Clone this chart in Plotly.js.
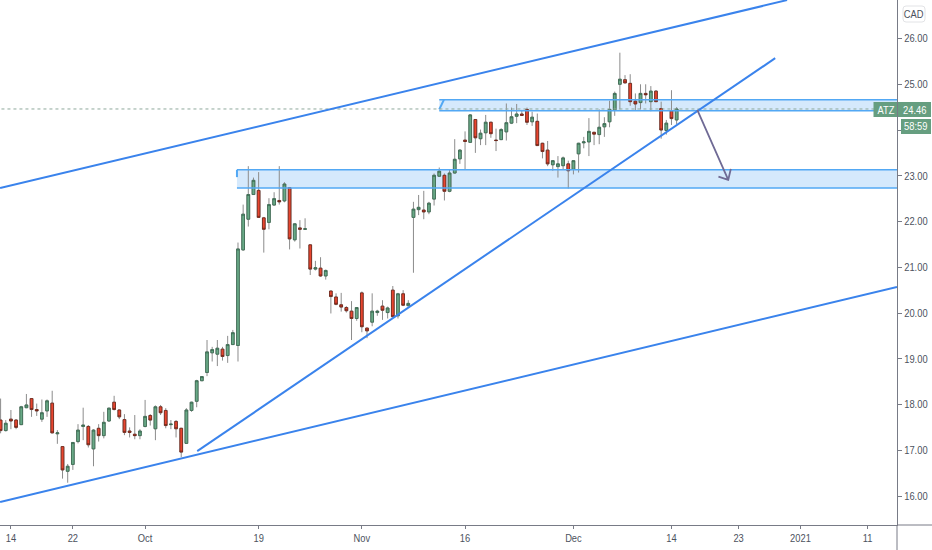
<!DOCTYPE html>
<html>
<head>
<meta charset="utf-8">
<script src="https://cdn.plot.ly/plotly-3.0.1.min.js"></script>
<style>html,body{margin:0;padding:0;background:#fff}#c{width:932px;height:550px}</style>
</head>
<body>
<div id="c"></div>
<script>
const opens = [17.66,17.43,17.68,17.66,17.56,17.93,18.13,17.89,17.68,17.86,
18.03,17.36,17.08,16.54,16.69,17.19,17.52,17.52,17.03,17.48,
17.32,17.64,18.05,17.88,17.67,17.42,17.35,17.32,17.52,17.76,
17.47,17.95,17.87,17.56,17.63,17.48,17.15,17.87,18.07,18.52,
18.70,19.13,19.10,19.21,19.07,19.31,19.29,21.38,22.05,22.59,
22.68,22.08,21.98,22.36,22.46,22.45,22.74,21.60,21.86,21.83,
21.49,20.96,20.98,20.81,20.48,20.35,20.18,20.12,20.04,19.88,
20.44,19.67,19.80,20.01,20.15,20.01,20.50,19.94,20.42,20.16,
22.09,22.26,22.25,22.21,22.49,22.99,23.01,22.66,23.06,23.37,
23.78,23.73,24.23,23.81,23.94,24.17,23.78,23.79,23.96,24.15,
24.30,24.35,24.45,24.18,24.19,23.71,23.56,23.24,23.20,23.22,
23.26,23.14,23.48,23.72,23.74,23.95,23.90,24.07,24.18,24.44,
25.00,25.10,25.02,24.63,24.60,24.80,24.62,24.85,24.47,23.99,
24.42,24.22];
const highs = [18.13,17.66,17.88,17.68,17.97,18.23,18.14,18.02,18.11,18.11,
18.30,17.44,17.09,16.70,17.18,17.57,17.93,17.55,17.46,17.57,
17.84,17.93,18.19,17.89,17.79,17.50,17.77,17.46,18.10,17.79,
17.98,17.99,17.92,17.66,17.66,17.49,17.92,18.06,18.54,18.62,
19.41,19.26,19.41,19.26,19.50,19.63,21.54,22.37,23.21,22.96,
23.08,22.10,22.51,22.64,23.21,22.86,22.75,21.96,22.03,22.07,
21.50,21.14,21.22,20.95,20.49,20.43,20.44,20.15,20.26,20.12,
20.47,19.68,20.43,20.07,20.28,20.14,20.59,20.44,20.50,20.28,
22.43,22.58,22.67,22.43,23.05,23.18,23.05,23.13,23.80,23.58,
23.97,24.35,24.24,24.01,24.33,24.18,24.03,24.04,24.58,24.49,
24.57,24.44,24.49,24.40,24.36,23.72,23.76,23.34,23.43,23.42,
23.33,23.34,23.72,23.85,24.26,23.96,24.45,24.28,24.64,24.84,
25.69,25.20,25.22,24.80,25.00,25.00,24.96,24.87,24.62,24.22,
24.87,24.50];
const lows = [17.37,17.41,17.46,17.46,17.55,17.92,17.73,17.75,17.62,17.73,
17.37,17.14,16.38,16.29,16.57,17.15,17.22,17.06,16.65,17.19,
17.26,17.62,17.87,17.68,17.33,17.28,17.24,17.24,17.50,17.54,
17.22,17.77,17.48,17.46,17.28,16.85,17.14,17.84,17.94,18.51,
18.62,18.94,18.84,18.96,18.91,19.30,18.94,21.36,21.89,22.58,
22.08,21.32,21.83,22.35,22.37,22.42,21.39,21.56,21.41,21.83,
20.83,20.93,20.79,20.73,19.99,20.17,20.03,20.01,19.41,19.83,
19.58,19.45,19.71,19.94,19.85,19.88,19.91,19.88,20.15,20.15,
20.88,22.14,22.05,22.16,22.35,22.98,22.46,22.64,23.05,23.26,
23.14,23.72,23.50,23.67,23.67,23.83,23.54,23.78,23.77,24.13,
24.15,24.31,24.11,24.09,23.65,23.38,23.21,23.11,22.96,23.14,
22.72,23.03,23.07,23.60,23.43,23.67,23.69,23.85,24.06,24.31,
24.45,25.02,24.53,24.42,24.45,24.58,24.41,24.61,23.81,23.90,
24.11,24.13];
const closes = [17.43,17.59,17.64,17.50,17.95,17.99,17.89,17.86,17.82,18.08,
17.38,17.38,16.57,16.65,17.17,17.44,17.55,17.12,17.44,17.32,
17.61,17.92,17.89,17.73,17.39,17.39,17.32,17.42,17.74,17.66,
17.95,17.82,17.54,17.57,17.47,16.96,17.88,18.05,18.52,18.61,
19.15,19.20,19.23,19.05,19.31,19.57,21.40,22.16,22.59,22.90,
22.09,21.83,22.37,22.50,22.43,22.82,21.62,21.95,21.83,21.84,
20.96,20.99,20.81,20.93,20.36,20.19,20.13,20.05,19.88,20.12,
19.70,19.61,20.04,20.04,20.06,20.11,19.92,20.42,20.17,20.21,
22.27,22.31,22.21,22.40,23.01,23.10,22.66,23.06,23.36,23.56,
23.75,24.33,23.83,23.93,24.17,23.92,23.77,24.01,24.16,24.29,
24.35,24.32,24.17,24.28,23.66,23.53,23.26,23.33,23.26,23.39,
23.11,23.33,23.71,23.74,23.97,23.91,24.06,24.14,24.45,24.80,
25.11,25.03,24.62,24.57,24.80,24.77,24.85,24.62,24.00,24.15,
24.25,24.46];

const xTickBars = [2,14,28,50,70,90,111,130,143,155,168];
const xTickLabels = ['14','22','Oct','19','Nov','16','Dec','14','23','2021','11'];
const yTickValues = [16,17,18,19,20,21,22,23,24,25,26];
const yTickLabels = ['16.00','17.00','18.00','19.00','20.00','21.00','22.00','23.00','','25.00','26.00'];

const upperChannelX = [-0.1,152.4], upperChannelY = [22.73,26.84];
const lowerChannelX = [-0.1,173.7], lowerChannelY = [15.87,20.57];
const riseLineX = [38.1,150.1], riseLineY = [16.98,25.57];
const arrowX = [135,141,139.1,141,141.5], arrowY = [24.44,22.91,22.98,22.91,23.15];
const upperZone = {x0:85,x1:173.7,y0:24.42,y1:24.66};
const lowerZone = {x0:45.8,x1:173.7,y0:22.73,y1:23.13};
const lastPrice = 24.46;

const bars = opens.map((_,i)=>i);
const BLUE = '#3a83ec', ZONE_EDGE = '#52a8f4', ZONE_FILL = '#d5e9fc';
const FONT = '"Liberation Sans",sans-serif';
const W = 932, H = 550, L = 0, R = 35, T = 0, B = 25;
const px = v => (v - L) / (W - L - R);
const py = v => 1 - (v - T) / (H - T - B);

function line(x, y, color, width, dash){
  return {type:'scatter', mode:'lines', x, y, line:{color, width, dash: dash||'solid'},
          hoverinfo:'skip', showlegend:false};
}

const traces = [
  {type:'candlestick', x:bars, open:opens, high:highs, low:lows, close:closes,
   increasing:{line:{color:'#8c8c8c',width:1},fillcolor:'rgba(0,0,0,0)'},
   decreasing:{line:{color:'#8c8c8c',width:1},fillcolor:'rgba(0,0,0,0)'},
   whiskerwidth:0, hoverinfo:'skip', showlegend:false},
  {type:'candlestick', x:bars, open:opens, close:closes,
   high:opens.map((o,i)=>Math.max(o,closes[i])),
   low:opens.map((o,i)=>Math.min(o,closes[i])),
   increasing:{line:{color:'#38684f',width:0.8},fillcolor:'#69a987'},
   decreasing:{line:{color:'#6b2418',width:0.8},fillcolor:'#e8452f'},
   whiskerwidth:0, hoverinfo:'skip', showlegend:false},
  line([lowerZone.x0,lowerZone.x1],[lowerZone.y1,lowerZone.y1],ZONE_EDGE,1.5),
  line([lowerZone.x0,lowerZone.x1],[lowerZone.y0,lowerZone.y0],ZONE_EDGE,1.5),
  line([upperZone.x0,upperZone.x1],[upperZone.y1,upperZone.y1],ZONE_EDGE,1.5),
  line([upperZone.x0,upperZone.x1],[upperZone.y0,upperZone.y0],ZONE_EDGE,1.5),
  line([lowerZone.x0,lowerZone.x0],[lowerZone.y1,22.97],ZONE_EDGE,2),
  line([upperZone.x0,upperZone.x0+0.9],[upperZone.y0+0.03,upperZone.y1],ZONE_EDGE,2),
  line([bars[0]-1,173.7],[lastPrice,lastPrice],'#8fa99b',1,'dot'),
  line(upperChannelX,upperChannelY,BLUE,2),
  line(lowerChannelX,lowerChannelY,BLUE,2),
  line(riseLineX,riseLineY,BLUE,2),
  line(arrowX,arrowY,'#6f6a95',1.8)
];

const shapes = [
  {type:'rect',layer:'below',xref:'x',yref:'y',x0:lowerZone.x0,x1:lowerZone.x1,y0:lowerZone.y0,y1:lowerZone.y1,fillcolor:ZONE_FILL,line:{width:0}},
  {type:'rect',layer:'below',xref:'x',yref:'y',x0:upperZone.x0,x1:upperZone.x1,y0:upperZone.y0,y1:upperZone.y1,fillcolor:ZONE_FILL,line:{width:0}},
  {type:'line',xref:'paper',yref:'paper',x0:px(897),x1:px(932),y0:py(525),y1:py(525),line:{color:'#787b86',width:1}},
  {type:'line',xref:'paper',yref:'paper',x0:px(897),x1:px(897),y0:py(525),y1:py(550),line:{color:'#787b86',width:1}},
  {type:'rect',xref:'paper',yref:'paper',x0:px(873.5),x1:px(897),y0:py(117),y1:py(102),fillcolor:'#669e80',line:{width:0}},
  {type:'rect',xref:'paper',yref:'paper',x0:px(898),x1:px(931),y0:py(117),y1:py(102),fillcolor:'#669e80',line:{width:0}},
  {type:'rect',xref:'paper',yref:'paper',x0:px(901),x1:px(931),y0:py(134),y1:py(119),fillcolor:'#669e80',line:{width:0}},
  {type:'path',xref:'paper',yref:'paper',
   path:`M${px(906)},${py(6)} L${px(922)},${py(6)} Q${px(925)},${py(6)} ${px(925)},${py(9)} L${px(925)},${py(19)} Q${px(925)},${py(22)} ${px(922)},${py(22)} L${px(906)},${py(22)} Q${px(903)},${py(22)} ${px(903)},${py(19)} L${px(903)},${py(9)} Q${px(903)},${py(6)} ${px(906)},${py(6)} Z`,
   fillcolor:'#ffffff',line:{color:'#e2e3e6',width:1}}
];

function label(text, cx, cy, color){
  return {text, xref:'paper', yref:'paper', x:px(cx), y:py(cy), xanchor:'center', yanchor:'middle',
          showarrow:false, font:{family:FONT,size:11,color}};
}

const layout = {
  width:W, height:H, margin:{l:L,r:R,t:T,b:B,pad:0},
  paper_bgcolor:'#ffffff', plot_bgcolor:'#ffffff', showlegend:false, boxgap:0.25, boxmode:'overlay',
  xaxis:{type:'linear', range:[-0.116,173.7], rangeslider:{visible:false}, showgrid:false, zeroline:false,
    tickmode:'array', tickvals:xTickBars, ticktext:xTickLabels, ticks:'outside', ticklen:3, tickcolor:'#787b86',
    showline:true, linecolor:'#787b86', linewidth:1, tickfont:{family:FONT,size:11,color:'#4c525e'}},
  yaxis:{side:'right', range:[15.366,26.842], showgrid:false, zeroline:false,
    tickmode:'array', tickvals:yTickValues, ticktext:yTickLabels, ticks:'outside', ticklen:4, tickcolor:'#787b86',
    showline:true, linecolor:'#787b86', linewidth:1, tickfont:{family:FONT,size:11,color:'#4c525e'}},
  shapes,
  annotations:[
    label('CAD',914,14,'#4c525e'),
    label('ATZ',886,109.5,'#ffffff'),
    label('24.46',915,109.5,'#ffffff'),
    label('58:59',916,126.5,'#ffffff')
  ]
};
Plotly.newPlot('c', traces, layout, {staticPlot:true, displayModeBar:false}).then(gd => {
  gd.querySelectorAll('.xtick text, .ytick text, .annotation-text').forEach(t => {
    if (!t.textContent) return;
    t.setAttribute('textLength', (t.getComputedTextLength() * 0.85).toFixed(1));
    t.setAttribute('lengthAdjust', 'spacingAndGlyphs');
  });
});
</script>
</body>
</html>
